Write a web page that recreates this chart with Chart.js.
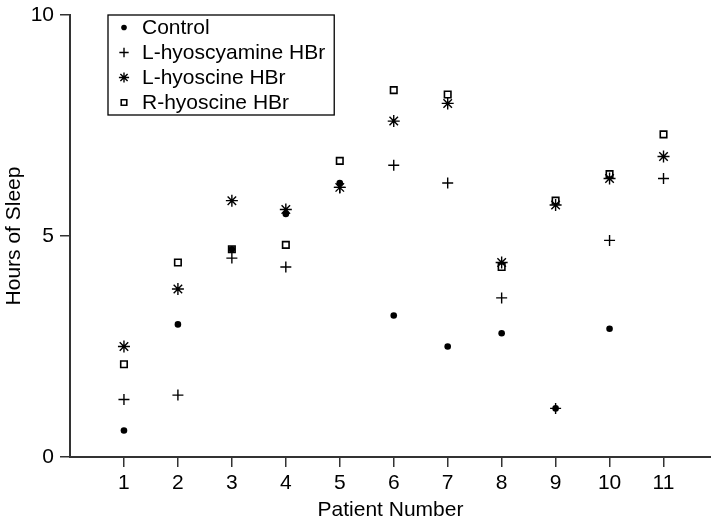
<!DOCTYPE html>
<html>
<head>
<meta charset="utf-8">
<script src="https://cdn.jsdelivr.net/npm/chart.js@4.4.0/dist/chart.umd.min.js"></script>
<style>
  html, body { margin: 0; padding: 0; background: #fff; }
  #wrap { width: 711px; height: 524px; }
</style>
</head>
<body>
<div id="wrap"><canvas id="sleepChart" width="711" height="524"></canvas></div>
<script>
const patients = [1, 2, 3, 4, 5, 6, 7, 8, 9, 10, 11];
const control = [0.6, 3.0, 4.7, 5.5, 6.2, 3.2, 2.5, 2.8, 1.1, 2.9, null];
const lHyoscyamine = [1.3, 1.4, 4.5, 4.3, 6.1, 6.6, 6.2, 3.6, 1.1, 4.9, 6.3];
const lHyoscine = [2.5, 3.8, 5.8, 5.6, 6.1, 7.6, 8.0, 4.4, 5.7, 6.3, 6.8];
const rHyoscine = [2.1, 4.4, 4.7, 4.8, 6.7, 8.3, 8.2, 4.3, 5.8, 6.4, 7.3];
const yTicks = [0, 5, 10];

const FONT = "'Liberation Sans', Arial, Helvetica, sans-serif";
const AXIS = '#333';

function pairs(vals) {
  return patients.map((p, i) => ({ x: p, y: vals[i] })).filter(d => d.y !== null);
}

// legend drawn inside the plot, with a frame round it
const boxedLegend = {
  id: 'boxedLegend',
  afterDraw(chart) {
    const ctx = chart.ctx;
    const left = chart.chartArea.left + 38;
    const top = chart.chartArea.top;
    const rowH = 25;
    ctx.save();
    ctx.font = '21px ' + FONT;
    let maxW = 0;
    chart.data.datasets.forEach(ds => { maxW = Math.max(maxW, ctx.measureText(ds.label).width); });
    const w = 34 + maxW + 9;
    const h = rowH * chart.data.datasets.length;
    ctx.lineWidth = 1.3;
    ctx.strokeStyle = '#000';
    ctx.strokeRect(left, top, w, h);
    chart.data.datasets.forEach((ds, i) => {
      const y = top + 12.5 + i * rowH;
      ctx.fillStyle = ds.backgroundColor;
      ctx.strokeStyle = ds.borderColor;
      ctx.lineWidth = ds.borderWidth;
      Chart.helpers.drawPoint(ctx, {
        pointStyle: ds.pointStyle,
        radius: ds.pointRadius * 0.85,
        rotation: 0,
        borderWidth: ds.borderWidth
      }, left + 16, y);
      ctx.fillStyle = '#000';
      ctx.textBaseline = 'middle';
      ctx.textAlign = 'left';
      ctx.fillText(ds.label, left + 34, y + 1);
    });
    ctx.restore();
  }
};

new Chart(document.getElementById('sleepChart'), {
  type: 'scatter',
  data: {
    datasets: [
      { label: 'Control', data: pairs(control), pointStyle: 'circle', pointRadius: 3.3,
        backgroundColor: '#000', borderColor: '#000', borderWidth: 0 },
      { label: 'L-hyoscyamine HBr', data: pairs(lHyoscyamine), pointStyle: 'cross', pointRadius: 5.5,
        backgroundColor: '#000', borderColor: '#000', borderWidth: 1.4 },
      { label: 'L-hyoscine HBr', data: pairs(lHyoscine), pointStyle: 'star', pointRadius: 6,
        backgroundColor: '#000', borderColor: '#000', borderWidth: 1.4 },
      { label: 'R-hyoscine HBr', data: pairs(rHyoscine), pointStyle: 'rect', pointRadius: 4.6,
        backgroundColor: 'rgba(0,0,0,0)', borderColor: '#000', borderWidth: 1.6 }
    ]
  },
  options: {
    responsive: false,
    animation: false,
    layout: { autoPadding: false, padding: { top: 15, right: 0, bottom: 0, left: 0 } },
    plugins: {
      legend: { display: false },
      tooltip: { enabled: false }
    },
    scales: {
      x: {
        type: 'linear',
        min: 0,
        max: 11.88,
        afterBuildTicks: s => { s.ticks = patients.map(v => ({ value: v })); },
        afterFit: s => { s.height = 67; s.paddingLeft = 0; s.paddingRight = 0; },
        grid: { drawOnChartArea: false, drawTicks: true, tickLength: 10, color: AXIS, lineWidth: 1.5 },
        border: { display: true, color: AXIS, width: 2 },
        ticks: { color: '#000', font: { family: FONT, size: 21 }, padding: 4, maxRotation: 0 },
        title: { display: true, text: 'Patient Number', color: '#000',
                 font: { family: FONT, size: 21 }, padding: { top: 0, bottom: 1 } }
      },
      y: {
        min: 0,
        max: 10,
        afterBuildTicks: s => { s.ticks = yTicks.map(v => ({ value: v })); },
        afterFit: s => { s.width = 70; s.paddingTop = 0; s.paddingBottom = 0; },
        grid: { drawOnChartArea: false, drawTicks: true, tickLength: 10, color: AXIS, lineWidth: 1.5 },
        border: { display: true, color: AXIS, width: 2 },
        ticks: { color: '#000', font: { family: FONT, size: 21 }, padding: 6 },
        title: { display: true, text: 'Hours of Sleep', color: '#000',
                 font: { family: FONT, size: 21 }, padding: { top: 2, bottom: 0 } }
      }
    }
  },
  plugins: [boxedLegend]
});
</script>
</body>
</html>
